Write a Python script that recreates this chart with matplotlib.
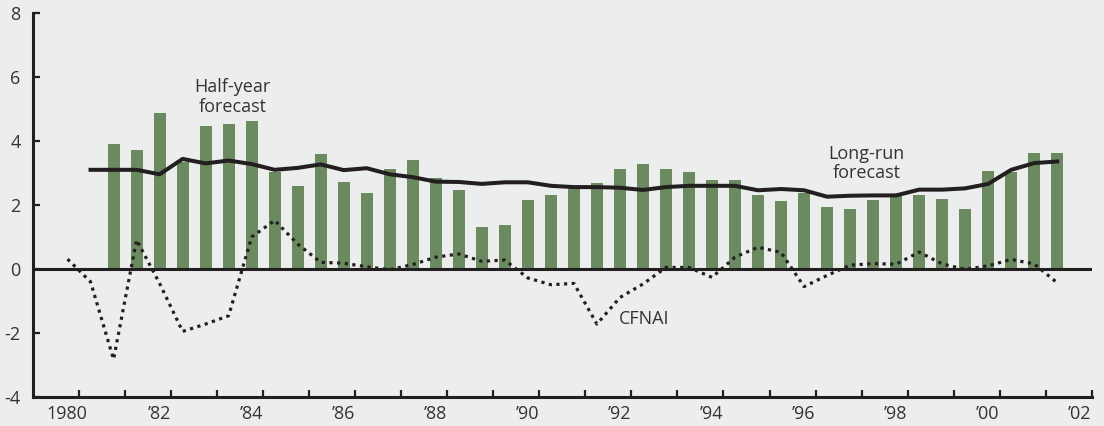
import numpy as np
import matplotlib
matplotlib.use("Agg")
import matplotlib.pyplot as plt

# Half-year forecast (bars), one value per half year, 1980 H2 .. 2001 H1
bar_years = np.arange(1980.75, 2001.26, 0.5)
half_year = [3.92, 3.73, 4.86, 3.34, 4.46, 4.52, 4.62, 3.03, 2.58, 3.58,
             2.71, 2.39, 3.11, 3.40, 2.85, 2.46, 1.30, 1.39, 2.17, 2.30,
             2.55, 2.68, 3.11, 3.27, 3.11, 3.02, 2.77, 2.77, 2.30, 2.11,
             2.36, 1.95, 1.86, 2.17, 2.27, 2.30, 2.20, 1.86, 3.05, 3.02,
             3.62, 3.62]

# Long-run forecast (solid line), 1980 H1 .. 2001 H1
long_years = np.arange(1980.25, 2001.26, 0.5)
long_run = [3.10, 3.10, 3.10, 2.96, 3.44, 3.30, 3.39, 3.28, 3.10, 3.16,
            3.27, 3.09, 3.15, 2.96, 2.87, 2.73, 2.72, 2.66, 2.71, 2.71,
            2.60, 2.56, 2.56, 2.54, 2.47, 2.56, 2.60, 2.60, 2.60, 2.46,
            2.50, 2.46, 2.26, 2.29, 2.30, 2.30, 2.48, 2.48, 2.52, 2.66,
            3.10, 3.31, 3.36]

# CFNAI (dotted line), 1979 H2 .. 2001 H1
cfnai_years = np.arange(1979.75, 2001.26, 0.5)
cfnai = [0.31, -0.40, -2.82, 0.91, -0.45, -1.95, -1.72, -1.46, 1.00, 1.52,
         0.78, 0.21, 0.18, 0.07, -0.02, 0.14, 0.37, 0.47, 0.24, 0.28,
         -0.28, -0.49, -0.45, -1.72, -0.89, -0.47, 0.05, 0.05, -0.26, 0.37,
         0.68, 0.52, -0.55, -0.20, 0.12, 0.17, 0.15, 0.53, 0.16, -0.01,
         0.10, 0.30, 0.16, -0.43]

year_ticks = np.arange(1980, 2003)
label_years = np.arange(1980, 2003, 2)
year_labels = ['1980', '\u201982', '\u201984', '\u201986', '\u201988', '\u201990',
               '\u201992', '\u201994', '\u201996', '\u201998', '\u201900', '\u201902']

bg = '#eceeed'
ink = '#231f20'
text_col = '#333333'
green = '#6b8a5f'

plt.rcParams['font.family'] = ['Open Sans', 'DejaVu Sans']

fig = plt.figure(figsize=(11.04, 4.26), dpi=100, facecolor=bg)
ax = fig.add_axes([0.0299, 0.068, 0.959, 0.9015], facecolor=bg)

ax.bar(bar_years, half_year, width=0.26, color=green, zorder=2)
ax.axhline(0, color=ink, lw=2.2, zorder=3)
ax.plot(cfnai_years, cfnai, color=ink, lw=2.3, linestyle=(0, (1, 1.4)), zorder=4)
ax.plot(long_years, long_run, color=ink, lw=2.9, solid_joinstyle='round', zorder=5)

ax.set_xlim(1979, 2002)
ax.set_ylim(-4, 8)
ax.set_yticks(range(-4, 9, 2))
ax.set_yticklabels([str(v) for v in range(-4, 9, 2)])

# tick marks every year, labels sit a little left of the even-year ticks
ax.set_xticks(year_ticks)
ax.set_xticklabels([])
ax.set_xticks(label_years - 0.26, minor=True)
ax.set_xticklabels(year_labels, minor=True)

for s in ['top', 'right']:
    ax.spines[s].set_visible(False)
for s in ['left', 'bottom']:
    ax.spines[s].set_linewidth(2.2)
    ax.spines[s].set_color(ink)

ax.tick_params(axis='both', which='major', direction='in', length=5, width=1.6,
               color=ink, labelsize=13, labelcolor=text_col)
ax.tick_params(axis='x', which='minor', length=0, labelsize=13,
               labelcolor=text_col, pad=6)
ax.tick_params(axis='y', pad=9)

ax.text(1983.33, 5.37, 'Half-year\nforecast', ha='center', va='center',
        fontsize=13, color=text_col, linespacing=1.12)
ax.text(1997.11, 3.30, 'Long-run\nforecast', ha='center', va='center',
        fontsize=13, color=text_col, linespacing=1.12)
ax.text(1991.72, -1.56, 'CFNAI', ha='left', va='center',
        fontsize=13, color=text_col)

fig.savefig('out.png', dpi=100, facecolor=bg)
